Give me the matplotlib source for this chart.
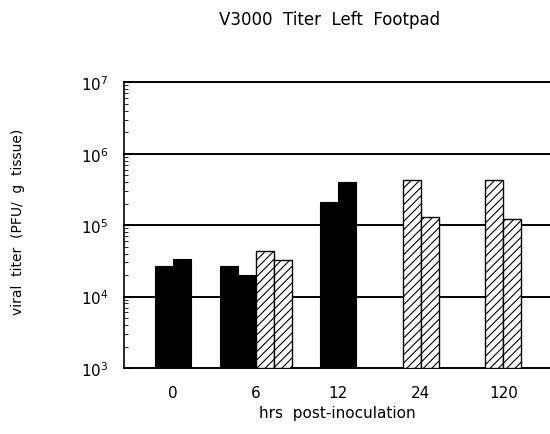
import numpy as np
import matplotlib
matplotlib.use('Agg')
import matplotlib.pyplot as plt
from matplotlib.ticker import LogLocator, NullFormatter

# Data (PFU / g tissue)
hours = ['0', '6', '12', '24', '120']
solid_titers = [[2.6e4, 3.3e4], [2.6e4, 1.9e4], [2.07e5, 3.95e5], [], []]
hatched_titers = [[], [4.2e4, 3.1e4], [], [4.3e5, 1.3e5], [4.3e5, 1.2e5]]

plt.rcParams['hatch.linewidth'] = 0.8
plt.rcParams['font.family'] = 'DejaVu Sans'

fig = plt.figure(figsize=(5.5, 4.35), dpi=100)
ax = fig.add_axes([0.2255, 0.1517, 0.7745, 0.657])

width = 0.217
for i in range(len(hours)):
    vals = solid_titers[i] + hatched_titers[i]
    n = len(vals)
    offsets = (np.arange(n) - (n - 1) / 2) * width
    for j, v in enumerate(vals):
        if j < len(solid_titers[i]):
            ax.bar(i + offsets[j], v, width=width, bottom=1e3, color='black',
                   edgecolor='black', linewidth=0.8, zorder=3)
        else:
            ax.bar(i + offsets[j], v, width=width, bottom=1e3, color='white',
                   edgecolor='black', hatch='////', linewidth=1.0, zorder=3)

ax.set_yscale('log')
ax.set_ylim(1e3, 1e7)
ax.set_xlim(-0.596, 4.566)

for g in [1e4, 1e5, 1e6, 1e7]:
    ax.axhline(g, color='black', linewidth=1.4, zorder=1, clip_on=False)

ax.set_yticks([1e3, 1e4, 1e5, 1e6, 1e7])
ax.set_yticklabels(['$10^3$', '$10^4$', '$10^5$', '$10^6$', '$10^7$'], fontsize=11)
ax.yaxis.set_minor_locator(LogLocator(base=10, subs=np.arange(2, 10)))
ax.yaxis.set_minor_formatter(NullFormatter())
ax.tick_params(axis='y', which='major', direction='in', length=5, pad=11)
ax.tick_params(axis='y', which='minor', direction='in', length=3)

ax.set_xticks(range(len(hours)))
ax.set_xticklabels(hours, fontsize=11)
ax.tick_params(axis='x', length=0, pad=12)

for s in ['top', 'right']:
    ax.spines[s].set_visible(False)
ax.spines['left'].set_linewidth(1.2)
ax.spines['bottom'].set_linewidth(1.4)

ax.set_xlabel('hrs  post-inoculation', fontsize=11, labelpad=4)
fig.text(0.033, 0.49, 'viral  titer  (PFU/  g  tissue)', rotation=90,
         ha='center', va='center', fontsize=10)
fig.text(0.6, 0.955, 'V3000  Titer  Left  Footpad', ha='center', va='center',
         fontsize=12)

fig.savefig('out.png', dpi=100)
